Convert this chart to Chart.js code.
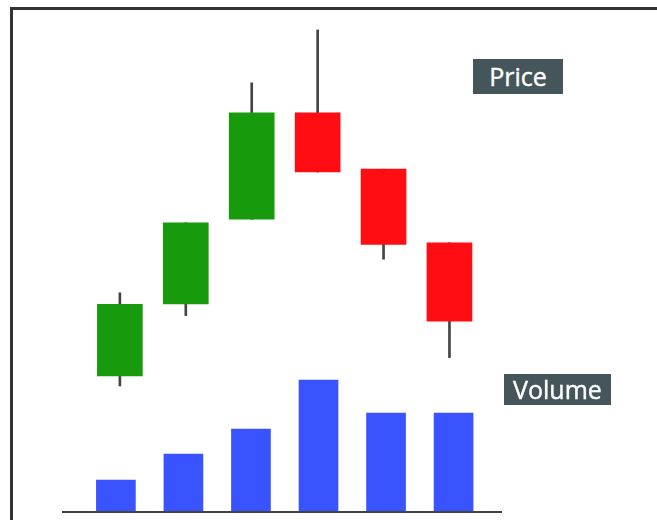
<!DOCTYPE html>
<html>
<head>
<meta charset="utf-8">
<script src="https://cdn.jsdelivr.net/npm/chart.js@4.4.1/dist/chart.umd.min.js"></script>
<style>
    html, body { margin: 0; padding: 0; background: #fff; }
    #wrap { position: relative; width: 657px; height: 520px; overflow: hidden; }
    #frame { position: absolute; left: 10px; top: 7px; right: -10px; bottom: -10px;
             border-top: 3px solid #333; border-left: 3px solid #333; }
    #chart { position: absolute; left: 0; top: 0; }
    .tag { position: absolute; background: #44565a; color: #fff; text-align: center;
           font-family: "Open Sans", sans-serif; font-size: 25px; font-weight: 400;
           -webkit-text-stroke: 0.4px #fff; }
    #priceTag { left: 473px; top: 59px; width: 90px; height: 35px; line-height: 35px; }
    #volumeTag { left: 504px; top: 374px; width: 107px; height: 31px; line-height: 31px; }
</style>
</head>
<body>
<div id="wrap">
    <div id="frame"></div>
    <canvas id="chart" width="657" height="520"></canvas>
    <div class="tag" id="priceTag">Price</div>
    <div class="tag" id="volumeTag">Volume</div>
</div>
<script>
// candle data
var periods = [1, 2, 3, 4, 5, 6];
var opens  = [34.0, 52.0, 73.2, 99.8, 85.7, 67.3];
var closes = [51.9, 72.3, 99.8, 85.0, 66.9, 47.7];
var highs  = [54.8, 72.3, 107.3, 120.5, 85.7, 67.3];
var lows   = [31.5, 49.1, 73.2, 85.0, 63.2, 38.6];
var volumes = [16, 29, 41.5, 66, 49.5, 49.5];

var upColor = '#179b0c';
var downColor = '#ff0d12';

var bodies = periods.map(function (p, i) {
    return { x: p, y: [Math.min(opens[i], closes[i]), Math.max(opens[i], closes[i])] };
});
var wicks = periods.map(function (p, i) {
    return { x: p, y: [lows[i], highs[i]] };
});
var bodyColors = periods.map(function (p, i) {
    return closes[i] >= opens[i] ? upColor : downColor;
});
var volumePoints = periods.map(function (p, i) {
    return { x: p, y: volumes[i] };
});

// baseline under the volume bars
var baseline = {
    id: 'baseline',
    afterDatasetsDraw: function (chart) {
        var a = chart.chartArea, ctx = chart.ctx;
        ctx.save();
        ctx.strokeStyle = '#444';
        ctx.lineWidth = 2;
        ctx.beginPath();
        ctx.moveTo(a.left, a.bottom);
        ctx.lineTo(a.right, a.bottom);
        ctx.stroke();
        ctx.restore();
    }
};

var chart = new Chart(document.getElementById('chart'), {
    type: 'bar',
    data: {
        datasets: [
            {
                label: 'Body',
                data: bodies,
                backgroundColor: bodyColors,
                xAxisID: 'xc',
                yAxisID: 'yp',
                barThickness: 45,
                grouped: false,
                order: 1
            },
            {
                label: 'Wick',
                data: wicks,
                backgroundColor: '#444',
                xAxisID: 'xc',
                yAxisID: 'yp',
                barThickness: 2,
                grouped: false,
                order: 2
            },
            {
                label: 'Volume',
                data: volumePoints,
                backgroundColor: '#3853ff',
                xAxisID: 'xv',
                yAxisID: 'yv',
                barThickness: 39,
                grouped: false,
                order: 3
            }
        ]
    },
    options: {
        responsive: false,
        animation: false,
        layout: { padding: { left: 62, right: 155, top: 0, bottom: 8 } },
        plugins: { legend: { display: false }, tooltip: { enabled: false } },
        scales: {
            xc: { type: 'linear', display: false, offset: false, min: 0.122, max: 6.797 },
            xv: { type: 'linear', display: false, offset: false, min: 0.202, max: 6.717 },
            yp: { type: 'linear', display: false, min: 0, max: 128 },
            yv: { type: 'linear', display: false, min: 0, max: 256 }
        }
    },
    plugins: [baseline]
});
</script>
</body>
</html>
